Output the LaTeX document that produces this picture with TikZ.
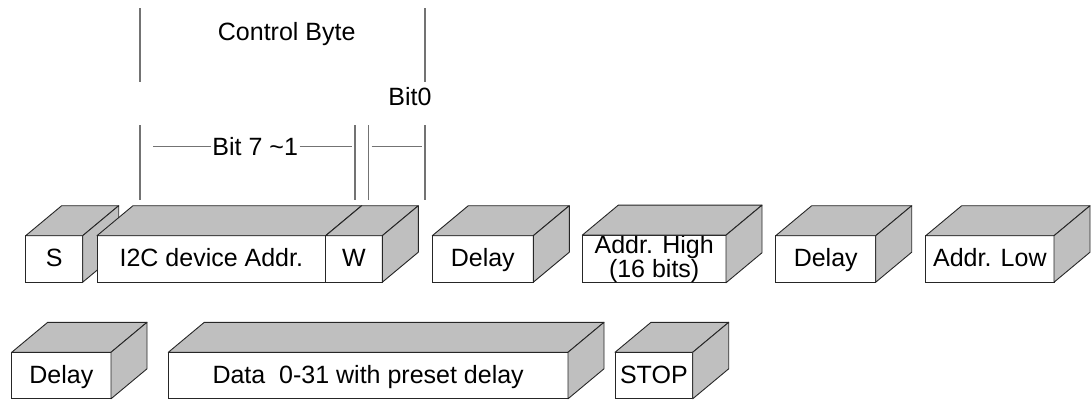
\documentclass[tikz,border=0pt]{standalone}
\usepackage{fontspec}
\setmainfont{Liberation Sans}
\usetikzlibrary{positioning,calc}

% top and right faces of a box, hung on the front node
\newcommand{\boxsides}[1]{%
  \filldraw[side] (#1.north west) -- ++(36,-30) -- ([shift={(36,-30)}]#1.north east) -- (#1.north east) -- cycle;
  \filldraw[side] (#1.north east) -- ++(36,-30) -- ([shift={(36,-30)}]#1.south east) -- (#1.south east) -- cycle;}

\begin{document}
\begin{tikzpicture}[x=1pt,y=-1pt,
  front/.style={draw=black!85,fill=white,line width=0.9pt,minimum height=46.5pt,inner sep=0pt,outer sep=0pt,align=center,font=\fontsize{25}{22.4}\selectfont},
  oneline/.style={text height=17.8pt,text depth=2pt},
  side/.style={draw=black!85,fill=gray!50,line width=0.9pt,line join=round},
  tick/.style={draw=black!55,line width=1.2pt},
  lbl/.style={inner sep=0pt,text height=17.8pt,text depth=0pt,font=\fontsize{25}{22.4}\selectfont}]
      \useasboundingbox (0,0) rectangle (1092,399);

      % first row
      \node[front,oneline,minimum width=57pt] (s) at (54.2,258.95) {S};
      \boxsides{s}
      \node[front,oneline,minimum width=228.7pt] (i2c) at (211.35,258.95) {I2C device Addr.};
      \boxsides{i2c}
      \node[front,oneline,minimum width=56.6pt,right=0pt of i2c] (w) {W};
      \boxsides{w}
      \node[front,oneline,minimum width=101pt] (dly1) at (482.8,258.95) {Delay};
      \boxsides{dly1}
      \node[front,minimum width=143.7pt] (hi) at (654.15,258.95) {Addr. High\\(16 bits)};
      \boxsides{hi}
      \node[front,oneline,minimum width=100pt] (dly2) at (825.7,258.95) {Delay};
      \boxsides{dly2}
      \node[front,oneline,minimum width=128.3pt] (lo) at (989.85,258.95) {Addr. Low};
      \boxsides{lo}

      % second row
      \node[front,oneline,minimum width=99.3pt] (dly3) at (61.35,375.55) {Delay};
      \boxsides{dly3}
      \node[front,oneline,minimum width=399.7pt] (data) at (368.15,375.55) {Data\ \ 0-31 with preset delay};
      \boxsides{data}
      \node[front,oneline,minimum width=77.7pt] (stop) at (653.85,375.55) {STOP};
      \boxsides{stop}

      % control byte marks
      \node[lbl] (ctrl) at (286.7,32) {Control Byte};
      \node[lbl] (bit0) at (410,97) {Bit0};
      \node[lbl] (bits) at (255.2,146.7) {Bit 7 \textasciitilde1};
      \foreach \x in {140,425} \draw[tick] (\x,8) -- (\x,81.7);
      \foreach \x in {140,355,368.3,425} \draw[tick] (\x,125) -- (\x,200);
      \coordinate (b7l) at (153.3,146.7);
      \coordinate (b7r) at (351.7,146.7);
      \coordinate (b0l) at (371.7,146.7);
      \coordinate (b0r) at (421.7,146.7);
      \draw[tick] (b7l) -- ([xshift=-1.5pt]bits.west);
      \draw[tick] ([xshift=1.5pt]bits.east) -- (b7r);
      \draw[tick] (b0l) -- (b0r);
\end{tikzpicture}
\end{document}
